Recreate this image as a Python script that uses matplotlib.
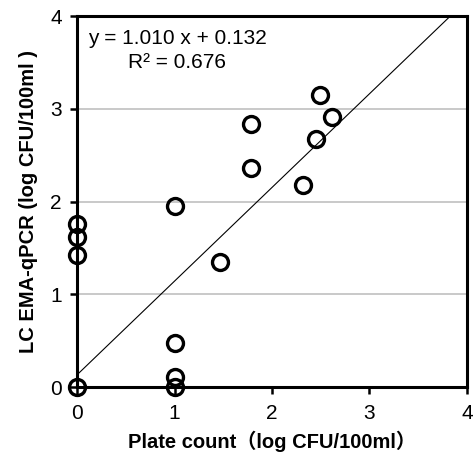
import matplotlib
matplotlib.use('Agg')
import matplotlib.pyplot as plt
import numpy as np

plt.rcParams['font.family'] = ['Liberation Sans', 'Noto Sans CJK SC', 'DejaVu Sans']

# plate count vs LC EMA-qPCR, log CFU/100ml
plate = [0, 0, 0, 0, 1, 1, 1, 1, 1.47, 1.78, 1.78, 2.32, 2.45, 2.49, 2.62]
qpcr = [0, 1.42, 1.62, 1.76, 0, 0.11, 0.48, 1.95, 1.35, 2.84, 2.36, 2.18, 2.68, 3.15, 2.91]

slope = 1.010
intercept = 0.132
r2 = 0.676

fig = plt.figure(figsize=(4.73, 4.61), dpi=100)
ax = fig.add_axes([0.163, 0.1605, 0.824, 0.8045])

# horizontal gridlines
ax.grid(axis='y', color='#c0c0c0', linewidth=1.2)
ax.set_axisbelow(True)

# trend line
xl = np.array([0, 4])
ax.plot(xl, slope * xl + intercept, color='black', linewidth=0.8, zorder=2)

ax.plot(plate, qpcr, 'o', markerfacecolor='none', markeredgecolor='black',
        markersize=11.5, markeredgewidth=2.4, clip_on=False, zorder=3)

ax.text(1.03, 3.63, f'y = {slope:.3f} x + {intercept:.3f}\nR\u00b2 = {r2:.3f}',
        ha='center', va='center', fontsize=15, linespacing=1.3)

ax.set_xlim(0, 4)
ax.set_ylim(0, 4)
ax.set_xticks([0, 1, 2, 3, 4])
ax.set_yticks([0, 1, 2, 3, 4])
ax.tick_params(direction='out', length=5, width=1.8, labelsize=15)
ax.tick_params(axis='x', pad=7)
ax.tick_params(axis='y', pad=6)

for s in ax.spines.values():
    s.set_linewidth(2.2)

ax.set_xlabel('Plate count\uff08log CFU/100ml\uff09', fontsize=14.5, fontweight='bold', labelpad=6)
ax.set_ylabel('LC EMA-qPCR (log CFU/100ml )', fontsize=14.5, fontweight='bold', labelpad=9)

fig.savefig('out.png', dpi=100)
